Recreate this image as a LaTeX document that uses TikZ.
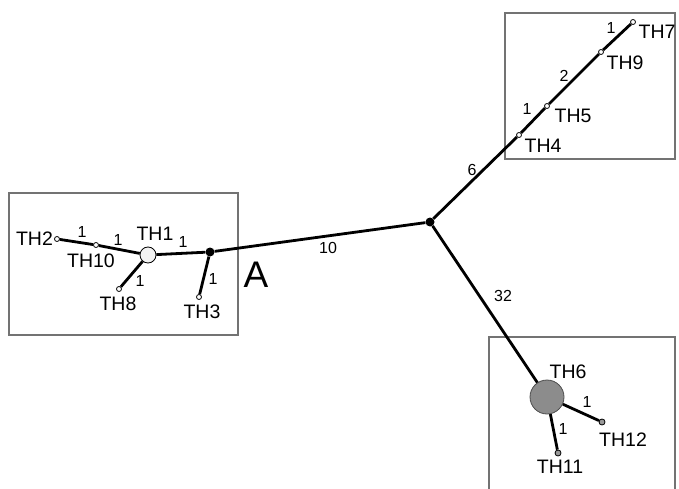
\documentclass[tikz,border=0pt]{standalone}
\usepackage{fontspec}
\setmainfont{Liberation Sans}
\usetikzlibrary{positioning}
\tikzset{
    hap/.style={circle, draw=black, line width=0.8pt, fill=white, inner sep=0pt, minimum size=5pt},
    junc/.style={circle, fill=black, inner sep=0pt, minimum size=9pt},
    lbl/.style={font=\fontsize{19.5}{19.5}\selectfont, inner sep=0pt},
    num/.style={font=\fontsize{16}{16}\selectfont, inner sep=0pt},
    edge/.style={line width=2.8pt},
    grp/.style={draw=black!55, line width=1.1pt}
}
\begin{document}
\begin{tikzpicture}[x=1pt, y=-1pt]
    \useasboundingbox (0,0) rectangle (679,489);

    % Group boxes
    \draw[grp] (9,193) rectangle (238,335);
    \draw[grp] (505,13) rectangle (675,159);
    \draw[grp] (489,337) rectangle (675,495);

    % Internal nodes
    \node[junc] (mid) at (430,222) {};
    \node[junc] (A) at (210,252) {};

    % Haplotypes, left group
    \node[circle, draw=black, line width=0.8pt, fill=black!5, inner sep=0pt, minimum size=16pt] (TH1) at (148,255) {};
    \node[hap] (TH2) at (57,239) {};
    \node[hap] (TH10) at (96,245) {};
    \node[hap] (TH8) at (119,289) {};
    \node[hap] (TH3) at (199,297) {};

    % Haplotypes, upper right group
    \node[hap] (TH4) at (519,135) {};
    \node[hap] (TH5) at (547,106) {};
    \node[hap] (TH9) at (601,52) {};
    \node[hap] (TH7) at (633,22) {};

    % Haplotypes, lower right group
    \node[circle, draw=black!70, line width=0.8pt, fill=black!45, inner sep=0pt, minimum size=34pt] (TH6) at (547,397) {};
    \node[hap, fill=black!40, minimum size=6pt] (TH12) at (602,422) {};
    \node[hap, fill=black!40, minimum size=6pt] (TH11) at (558,453) {};

    % Branches
    \draw[edge] (A) -- (mid);
    \draw[edge] (mid) -- (TH4);
    \draw[edge] (mid) -- (TH6);
    \draw[edge] (TH1) -- (A);
    \draw[edge] (TH2) -- (TH10);
    \draw[edge] (TH10) -- (TH1);
    \draw[edge] (TH1) -- (TH8);
    \draw[edge] (A) -- (TH3);
    \draw[edge] (TH4) -- (TH5);
    \draw[edge] (TH5) -- (TH9);
    \draw[edge] (TH9) -- (TH7);
    \draw[edge] (TH6) -- (TH12);
    \draw[edge] (TH6) -- (TH11);

    % Haplotype names
    \node[lbl, left=1pt of TH2] {TH2};
    \node[lbl] at (91,261) {TH10};
    \node[lbl] at (155,234) {TH1};
    \node[lbl] at (118,304) {TH8};
    \node[lbl] at (202,312) {TH3};
    \node[lbl] at (543,146) {TH4};
    \node[lbl] at (573,116) {TH5};
    \node[lbl] at (625,63) {TH9};
    \node[lbl] at (657,32) {TH7};
    \node[lbl] at (568,372) {TH6};
    \node[lbl] at (623,440) {TH12};
    \node[lbl] at (560,467) {TH11};
    \node[font=\fontsize{37}{37}\selectfont, inner sep=0pt] at (256,275) {A};

    % Mutation steps
    \node[num] at (82,232) {1};
    \node[num] at (118,240) {1};
    \node[num] at (183,242) {1};
    \node[num] at (140,281) {1};
    \node[num] at (213,279) {1};
    \node[num] at (328,248) {10};
    \node[num] at (472,170) {6};
    \node[num] at (503,296) {32};
    \node[num] at (527,109) {1};
    \node[num] at (564,76) {2};
    \node[num] at (611,28) {1};
    \node[num] at (587,402) {1};
    \node[num] at (563,429) {1};
\end{tikzpicture}
\end{document}
